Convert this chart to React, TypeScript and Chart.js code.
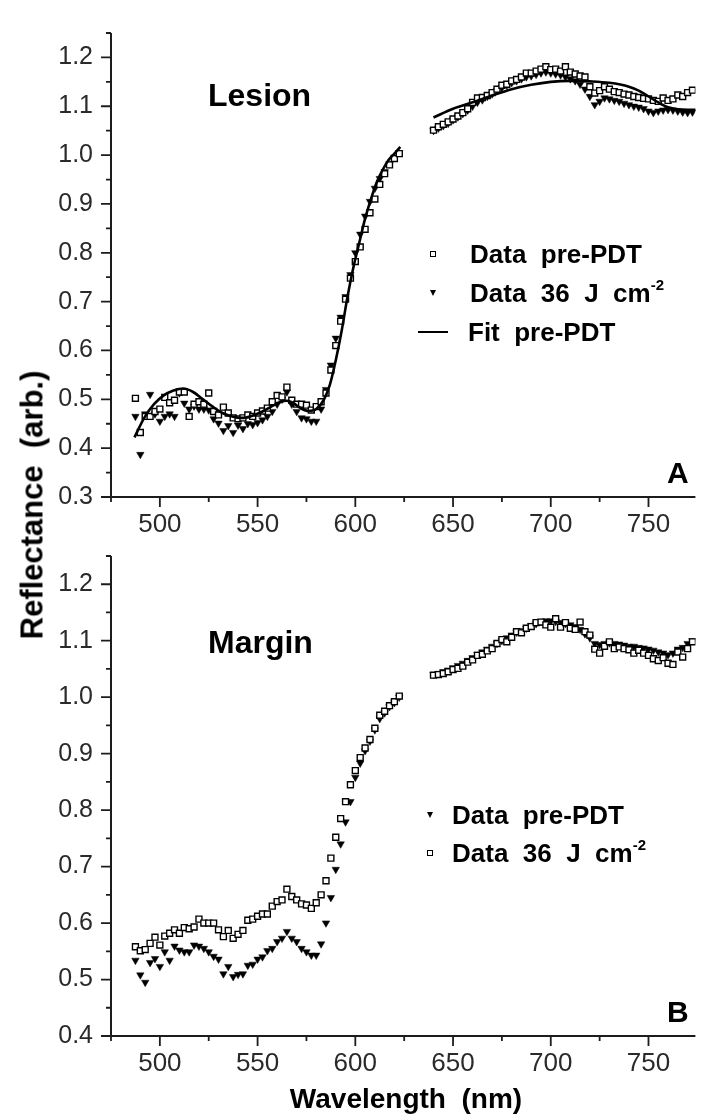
import React, { useEffect, useRef } from "react";
import { Chart, registerables } from "chart.js";

Chart.register(...registerables);

// ---------- data ----------
const wavelengthsA = [487.5, 490, 492.5, 495, 497.5, 500, 502.5, 505, 507.5, 510, 512.5, 515, 517.5, 520, 522.5, 525, 527.5, 530, 532.5, 535, 537.5, 540, 542.5, 545, 547.5, 550, 552.5, 555, 557.5, 560, 562.5, 565, 567.5, 570, 572.5, 575, 577.5, 580, 582.5, 585, 587.5, 590, 592.5, 595, 597.5, 600, 602.5, 605, 607.5, 610, 612.5, 615, 617.5, 620, 622.5];
const wavelengthsB = [640, 642.5, 645, 647.5, 650, 652.5, 655, 657.5, 660, 662.5, 665, 667.5, 670, 672.5, 675, 677.5, 680, 682.5, 685, 687.5, 690, 692.5, 695, 697.5, 700, 702.5, 705, 707.5, 710, 712.5, 715, 717.5, 720, 722.5, 725, 727.5, 730, 732.5, 735, 737.5, 740, 742.5, 745, 747.5, 750, 752.5, 755, 757.5, 760, 762.5, 765, 767.5, 770, 772.5];

// Panel A (Lesion)
const lesionPreA = [0.502, 0.432, 0.465, 0.465, 0.475, 0.480, 0.504, 0.493, 0.498, 0.515, 0.515, 0.465, 0.490, 0.495, 0.490, 0.513, 0.475, 0.468, 0.484, 0.472, 0.462, 0.460, 0.462, 0.468, 0.465, 0.472, 0.476, 0.482, 0.495, 0.508, 0.505, 0.525, 0.498, 0.490, 0.490, 0.488, 0.478, 0.485, 0.495, 0.513, 0.560, 0.610, 0.660, 0.705, 0.748, 0.782, 0.812, 0.848, 0.882, 0.910, 0.940, 0.962, 0.980, 0.993, 1.003];
const lesionPreB = [1.051, 1.058, 1.063, 1.068, 1.074, 1.080, 1.087, 1.095, 1.108, 1.117, 1.118, 1.122, 1.128, 1.135, 1.143, 1.145, 1.152, 1.155, 1.160, 1.168, 1.168, 1.172, 1.176, 1.181, 1.175, 1.176, 1.172, 1.181, 1.170, 1.166, 1.162, 1.160, 1.140, 1.127, 1.132, 1.140, 1.135, 1.130, 1.128, 1.125, 1.123, 1.120, 1.118, 1.116, 1.115, 1.112, 1.110, 1.117, 1.112, 1.115, 1.123, 1.120, 1.128, 1.133];
const lesionPostA = [0.465, 0.387, 0.470, 0.510, 0.470, 0.455, 0.465, 0.470, 0.465, 0.513, 0.492, 0.480, 0.486, 0.480, 0.480, 0.478, 0.460, 0.451, 0.436, 0.446, 0.432, 0.447, 0.440, 0.450, 0.448, 0.452, 0.458, 0.465, 0.475, 0.490, 0.500, 0.515, 0.490, 0.475, 0.462, 0.460, 0.455, 0.455, 0.480, 0.520, 0.570, 0.625, 0.668, 0.710, 0.755, 0.800, 0.838, 0.875, 0.905, 0.932, 0.952, 0.966, 0.982, 0.995, 1.005];
const lesionPostB = [1.050, 1.055, 1.060, 1.065, 1.072, 1.078, 1.085, 1.092, 1.100, 1.108, 1.113, 1.120, 1.125, 1.132, 1.138, 1.143, 1.148, 1.152, 1.156, 1.160, 1.162, 1.165, 1.168, 1.170, 1.168, 1.166, 1.164, 1.160, 1.156, 1.152, 1.145, 1.135, 1.120, 1.103, 1.110, 1.117, 1.115, 1.112, 1.110, 1.106, 1.103, 1.100, 1.098, 1.095, 1.090, 1.087, 1.090, 1.092, 1.093, 1.092, 1.090, 1.088, 1.087, 1.088];
const fitWavelengthsA = [487, 492, 497, 502, 507, 512, 517, 522, 527, 532, 537, 542, 547, 552, 557, 562, 565, 568, 572, 576, 580, 584, 587, 590, 593, 596, 599, 602, 605, 608, 611, 614, 617, 620, 623];
const fitPreA = [0.422, 0.462, 0.490, 0.508, 0.518, 0.522, 0.515, 0.500, 0.485, 0.472, 0.465, 0.462, 0.466, 0.474, 0.485, 0.495, 0.497, 0.493, 0.482, 0.476, 0.480, 0.500, 0.530, 0.580, 0.640, 0.710, 0.770, 0.820, 0.870, 0.910, 0.945, 0.970, 0.990, 1.003, 1.017];
const fitWavelengthsB = [640, 650, 660, 670, 680, 690, 700, 710, 720, 730, 740, 745, 750, 755, 760, 765, 770, 775];
const fitPreB = [1.077, 1.095, 1.108, 1.122, 1.135, 1.144, 1.150, 1.152, 1.151, 1.148, 1.140, 1.132, 1.120, 1.108, 1.098, 1.094, 1.093, 1.093];

// Panel B (Margin)
const marginPreA = [0.534, 0.508, 0.495, 0.530, 0.537, 0.523, 0.549, 0.534, 0.559, 0.552, 0.549, 0.549, 0.561, 0.559, 0.555, 0.549, 0.541, 0.536, 0.510, 0.523, 0.505, 0.509, 0.510, 0.525, 0.527, 0.536, 0.540, 0.551, 0.555, 0.567, 0.573, 0.585, 0.573, 0.567, 0.555, 0.549, 0.543, 0.543, 0.563, 0.600, 0.645, 0.695, 0.740, 0.779, 0.815, 0.858, 0.883, 0.905, 0.922, 0.942, 0.962, 0.972, 0.983, 0.990, 1.000];
const marginPreB = [1.040, 1.042, 1.045, 1.048, 1.052, 1.056, 1.060, 1.065, 1.070, 1.076, 1.080, 1.085, 1.090, 1.095, 1.100, 1.105, 1.110, 1.115, 1.118, 1.122, 1.127, 1.130, 1.134, 1.135, 1.135, 1.134, 1.132, 1.130, 1.128, 1.125, 1.120, 1.112, 1.105, 1.095, 1.093, 1.095, 1.096, 1.095, 1.094, 1.092, 1.090, 1.090, 1.088, 1.087, 1.085, 1.083, 1.080, 1.078, 1.075, 1.078, 1.085, 1.088, 1.095, 1.100];
const marginPostA = [0.558, 0.551, 0.553, 0.564, 0.575, 0.561, 0.577, 0.582, 0.588, 0.582, 0.592, 0.590, 0.593, 0.607, 0.600, 0.600, 0.600, 0.588, 0.576, 0.587, 0.573, 0.580, 0.587, 0.605, 0.607, 0.612, 0.616, 0.616, 0.630, 0.638, 0.641, 0.660, 0.647, 0.641, 0.634, 0.632, 0.626, 0.636, 0.650, 0.675, 0.715, 0.752, 0.785, 0.815, 0.845, 0.870, 0.893, 0.910, 0.925, 0.945, 0.968, 0.975, 0.985, 0.992, 1.002];
const marginPostB = [1.039, 1.040, 1.042, 1.045, 1.049, 1.051, 1.055, 1.062, 1.066, 1.074, 1.076, 1.082, 1.086, 1.095, 1.102, 1.098, 1.106, 1.116, 1.114, 1.122, 1.125, 1.132, 1.133, 1.128, 1.124, 1.139, 1.124, 1.132, 1.122, 1.120, 1.133, 1.116, 1.110, 1.085, 1.078, 1.090, 1.098, 1.086, 1.089, 1.086, 1.084, 1.078, 1.083, 1.078, 1.074, 1.068, 1.065, 1.070, 1.060, 1.058, 1.080, 1.071, 1.086, 1.098];

// Axes ticks
const xMajorTicks = [500, 550, 600, 650, 700, 750];
const xMinorTicks = [475, 525, 575, 625, 675, 725];
const yMajorTicksTop = [0.3, 0.4, 0.5, 0.6, 0.7, 0.8, 0.9, 1.0, 1.1, 1.2];
const yMinorTicksTop = [0.35, 0.45, 0.55, 0.65, 0.75, 0.85, 0.95, 1.05, 1.15, 1.25];
const yMajorTicksBottom = [0.4, 0.5, 0.6, 0.7, 0.8, 0.9, 1.0, 1.1, 1.2];
const yMinorTicksBottom = [0.45, 0.55, 0.65, 0.75, 0.85, 0.95, 1.05, 1.15, 1.25];

// ---------- styling ----------
const FONT = '"Liberation Sans", Arial, Helvetica, sans-serif';
const AXIS_COLOR = "#1c1c1c";
const TICK_LABEL_COLOR = "#2a2a2a";
const W = 701;

const toPoints = (xs: number[], ys: number[]) => xs.map((x, i) => ({ x, y: ys[i] }));

function makeAxesPlugin(yMajor: number[], yMinor: number[]) {
  return {
    id: "axesTicks",
    afterDraw(chart: any) {
      const { ctx, chartArea, scales } = chart;
      const { left, right, top, bottom } = chartArea;
      const xs = scales.x;
      const ys = scales.y;
      ctx.save();
      ctx.strokeStyle = AXIS_COLOR;
      ctx.lineWidth = 2;
      ctx.beginPath();
      ctx.moveTo(left, top);
      ctx.lineTo(left, bottom);
      ctx.lineTo(right, bottom);
      ctx.stroke();
      ctx.lineWidth = 1.8;
      ctx.beginPath();
      yMajor.forEach((v) => {
        const py = ys.getPixelForValue(v);
        ctx.moveTo(left - 10, py);
        ctx.lineTo(left, py);
      });
      yMinor.forEach((v) => {
        const py = ys.getPixelForValue(v);
        ctx.moveTo(left - 5, py);
        ctx.lineTo(left, py);
      });
      xMajorTicks.forEach((v) => {
        const px = xs.getPixelForValue(v);
        ctx.moveTo(px, bottom);
        ctx.lineTo(px, bottom + 10);
      });
      xMinorTicks.forEach((v) => {
        const px = xs.getPixelForValue(v);
        ctx.moveTo(px, bottom);
        ctx.lineTo(px, bottom + 5);
      });
      ctx.stroke();
      ctx.restore();
    },
  };
}

type PanelSpec = {
  squares: { x: number; y: number | null }[];
  triangles: { x: number; y: number | null }[];
  fit?: { x: number; y: number | null }[];
  yMin: number;
  yMax: number;
  yMajor: number[];
  yMinor: number[];
  topPad: number;
  xHeight: number;
};

function buildConfig(p: PanelSpec): any {
  const datasets: any[] = [];
  if (p.fit) {
    datasets.push({
      label: "Fit pre-PDT",
      data: p.fit,
      showLine: true,
      spanGaps: false,
      borderColor: "#000",
      borderWidth: 2.6,
      pointRadius: 0,
      cubicInterpolationMode: "monotone",
      order: 0,
    });
  }
  datasets.push({
    label: "squares",
    data: p.squares,
    pointStyle: "rect",
    pointRadius: 4.2,
    pointBackgroundColor: "#fff",
    pointBorderColor: "#000",
    pointBorderWidth: 1.4,
    showLine: false,
    order: 1,
  });
  datasets.push({
    label: "triangles",
    data: p.triangles,
    pointStyle: "triangle",
    pointRotation: 180,
    pointRadius: 4.3,
    pointBackgroundColor: "#000",
    pointBorderColor: "#000",
    pointBorderWidth: 0.5,
    showLine: false,
    order: 2,
  });

  return {
    type: "scatter",
    data: { datasets },
    options: {
      animation: false,
      responsive: false,
      maintainAspectRatio: false,
      devicePixelRatio: 1,
      events: [],
      layout: { padding: { top: p.topPad, left: 0, right: 0, bottom: 0 } },
      plugins: { legend: { display: false }, tooltip: { enabled: false }, title: { display: false } },
      scales: {
        x: {
          type: "linear",
          min: 475,
          max: 774,
          afterBuildTicks: (s: any) => {
            s.ticks = xMajorTicks.map((v) => ({ value: v }));
          },
          afterFit: (s: any) => {
            s.height = p.xHeight;
          },
          grid: { display: false, drawTicks: false },
          border: { display: false },
          ticks: {
            autoSkip: false,
            maxRotation: 0,
            padding: 12,
            color: TICK_LABEL_COLOR,
            font: { family: FONT, size: 26 },
            callback: (v: any) => String(v),
          },
        },
        y: {
          type: "linear",
          min: p.yMin,
          max: p.yMax,
          afterBuildTicks: (s: any) => {
            s.ticks = p.yMajor.map((v) => ({ value: v }));
          },
          afterFit: (s: any) => {
            s.width = 111;
          },
          grid: { display: false, drawTicks: false },
          border: { display: false },
          ticks: {
            autoSkip: false,
            padding: 18,
            color: TICK_LABEL_COLOR,
            font: { family: FONT, size: 25 },
            callback: (v: any) => Number(v).toFixed(1),
          },
        },
      },
    },
    plugins: [makeAxesPlugin(p.yMajor, p.yMinor)],
  };
}

const GAP = { x: 631, y: null };

function PanelChart({ spec, top, height }: { spec: PanelSpec; top: number; height: number }) {
  const ref = useRef<HTMLCanvasElement>(null);
  useEffect(() => {
    if (!ref.current) return;
    const chart = new Chart(ref.current, buildConfig(spec));
    return () => chart.destroy();
  }, []);
  return (
    <canvas
      ref={ref}
      width={W}
      height={height}
      style={{ position: "absolute", left: 0, top, width: W, height, display: "block" }}
    />
  );
}

function Label({ x, cy, size, children, weight = "bold" }: any) {
  return (
    <div
      style={{
        position: "absolute",
        left: x,
        top: cy - size / 2,
        fontSize: size,
        lineHeight: `${size}px`,
        fontWeight: weight,
        fontFamily: FONT,
        whiteSpace: "pre",
        color: "#000",
      }}
    >
      {children}
    </div>
  );
}

const Square = ({ cx, cy }: { cx: number; cy: number }) => (
  <div
    style={{
      position: "absolute",
      left: cx - 3,
      top: cy - 3,
      width: 6,
      height: 6,
      boxSizing: "border-box",
      border: "1.3px solid #000",
      background: "#fff",
    }}
  />
);

const Triangle = ({ cx, cy }: { cx: number; cy: number }) => (
  <div
    style={{
      position: "absolute",
      left: cx - 3.5,
      top: cy - 3,
      width: 0,
      height: 0,
      borderLeft: "3.5px solid transparent",
      borderRight: "3.5px solid transparent",
      borderTop: "6px solid #000",
    }}
  />
);

const Sup = ({ children }: any) => (
  <span style={{ fontSize: 15, position: "relative", top: -12 }}>{children}</span>
);

export default function App() {
  const topSpec: PanelSpec = {
    squares: [...toPoints(wavelengthsA, lesionPreA), ...toPoints(wavelengthsB, lesionPreB)],
    triangles: [...toPoints(wavelengthsA, lesionPostA), ...toPoints(wavelengthsB, lesionPostB)],
    fit: [...toPoints(fitWavelengthsA, fitPreA), GAP, ...toPoints(fitWavelengthsB, fitPreB)],
    yMin: 0.3,
    yMax: 1.25,
    yMajor: yMajorTicksTop,
    yMinor: yMinorTicksTop,
    topPad: 16,
    xHeight: 43,
  };
  const bottomSpec: PanelSpec = {
    squares: [...toPoints(wavelengthsA, marginPostA), ...toPoints(wavelengthsB, marginPostB)],
    triangles: [...toPoints(wavelengthsA, marginPreA), ...toPoints(wavelengthsB, marginPreB)],
    yMin: 0.4,
    yMax: 1.25,
    yMajor: yMajorTicksBottom,
    yMinor: yMinorTicksBottom,
    topPad: 36,
    xHeight: 80,
  };

  return (
    <div
      style={{
        position: "absolute",
        left: 0,
        top: 0,
        width: W,
        height: 1116,
        background: "#fff",
        overflow: "hidden",
        fontFamily: FONT,
      }}
    >
      <PanelChart spec={topSpec} top={0} height={540} />
      <PanelChart spec={bottomSpec} top={520} height={596} />

      {/* Panel A annotations */}
      <Label x={208} cy={95} size={32}>Lesion</Label>
      <Square cx={433} cy={254} />
      <Label x={470} cy={254} size={26}>{"Data  pre-PDT"}</Label>
      <Triangle cx={433} cy={293} />
      <Label x={470} cy={293} size={26}>
        {"Data  36  J  cm"}
        <Sup>-2</Sup>
      </Label>
      <div style={{ position: "absolute", left: 418, top: 331, width: 30, height: 1.6, background: "#000" }} />
      <Label x={468} cy={332} size={26}>{"Fit  pre-PDT"}</Label>
      <Label x={667} cy={473} size={30}>A</Label>

      {/* Panel B annotations */}
      <Label x={208} cy={642} size={32}>Margin</Label>
      <Triangle cx={430} cy={815} />
      <Label x={452} cy={815} size={26}>{"Data  pre-PDT"}</Label>
      <Square cx={430} cy={853} />
      <Label x={452} cy={853} size={26}>
        {"Data  36  J  cm"}
        <Sup>-2</Sup>
      </Label>
      <Label x={667} cy={1012} size={30}>B</Label>

      {/* Axis titles */}
      <div
        style={{
          position: "absolute",
          left: 32,
          top: 505,
          transform: "translate(-50%, -50%) rotate(-90deg)",
          fontSize: 31,
          lineHeight: "31px",
          fontWeight: "bold",
          fontFamily: FONT,
          whiteSpace: "pre",
          color: "#000",
        }}
      >
        {"Reflectance  (arb.)"}
      </div>
      <div
        style={{
          position: "absolute",
          left: 406,
          top: 1099 - 14,
          transform: "translateX(-50%)",
          fontSize: 28,
          lineHeight: "28px",
          fontWeight: "bold",
          fontFamily: FONT,
          whiteSpace: "pre",
          color: "#000",
        }}
      >
        {"Wavelength  (nm)"}
      </div>
    </div>
  );
}
